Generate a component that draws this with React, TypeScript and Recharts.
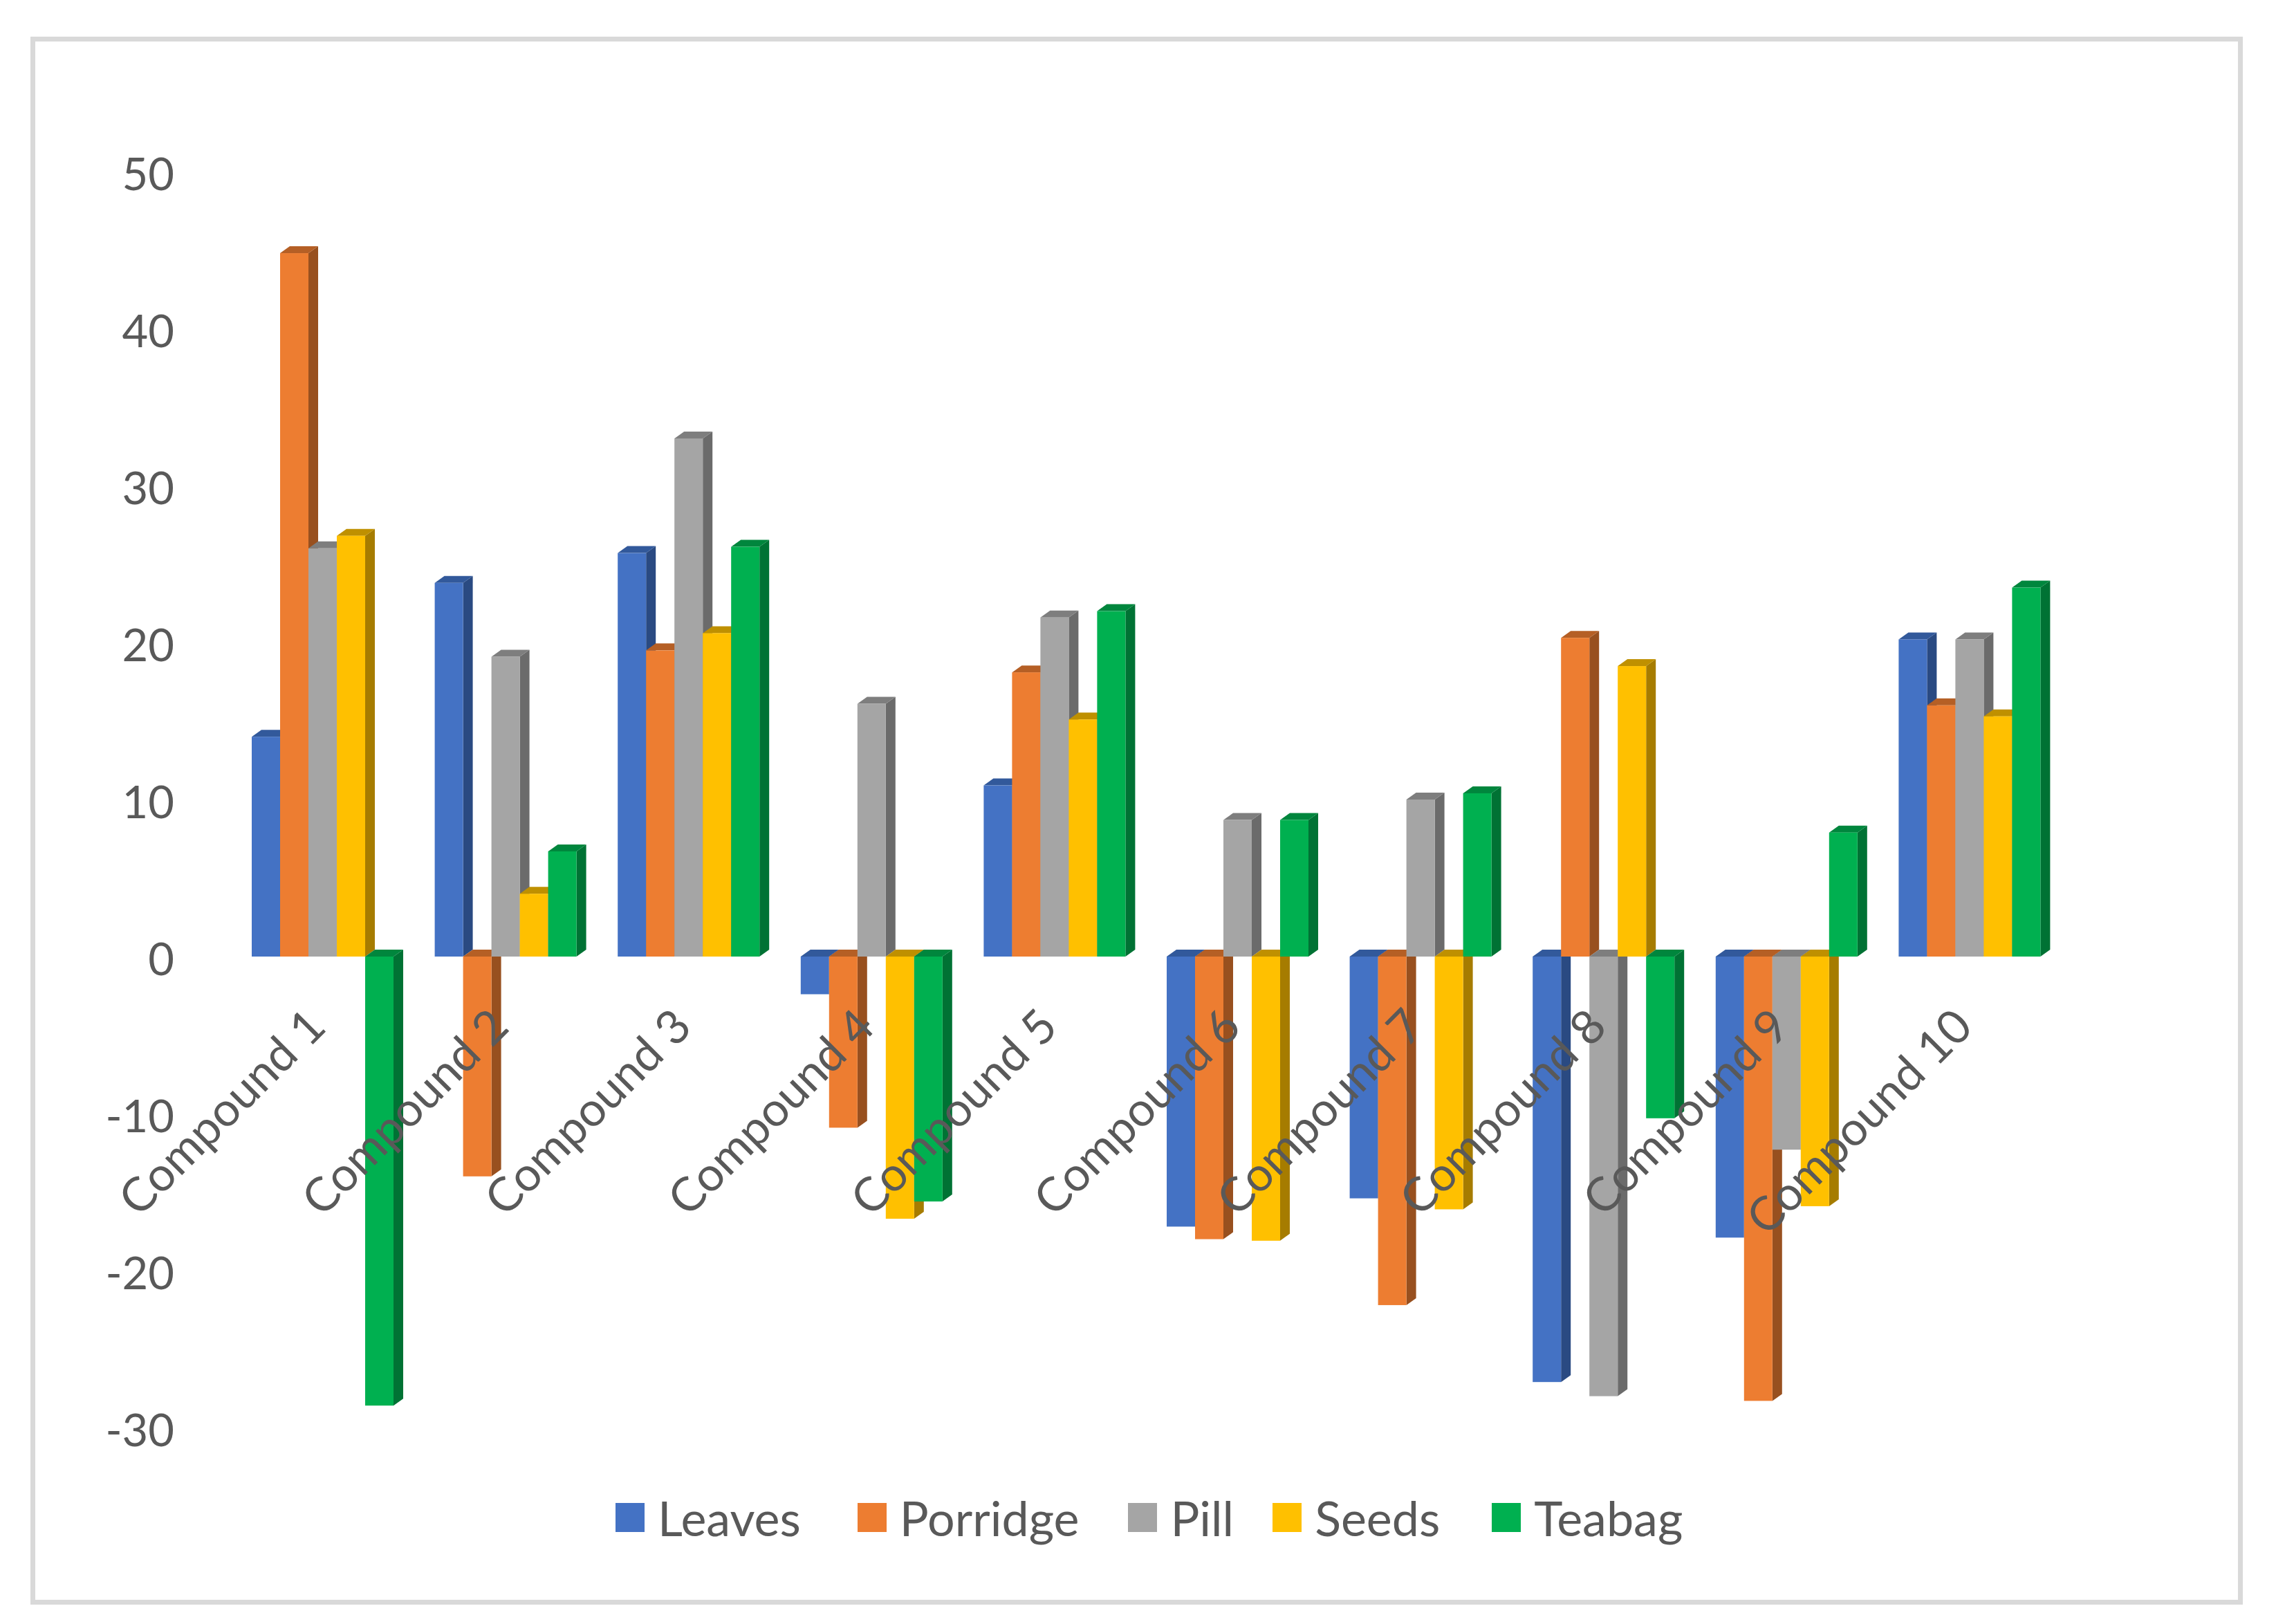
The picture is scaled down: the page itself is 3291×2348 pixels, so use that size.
import React from 'react';
import { BarChart, Bar, XAxis, YAxis, Legend } from 'recharts';

const categories = ['Compound 1', 'Compound 2', 'Compound 3', 'Compound 4', 'Compound 5', 'Compound 6', 'Compound 7', 'Compound 8', 'Compound 9', 'Compound 10'];
const leaves = [14.0, 23.8, 25.7, -2.4, 10.9, -17.2, -15.4, -27.1, -17.9, 20.2];
const porridge = [44.8, -14.0, 19.5, -10.9, 18.1, -18.0, -22.2, 20.3, -28.3, 16.0];
const pill = [26.0, 19.1, 33.0, 16.1, 21.6, 8.7, 10.0, -28.0, -12.3, 20.2];
const seeds = [26.8, 4.0, 20.6, -16.7, 15.1, -18.1, -16.1, 18.5, -15.9, 15.3];
const teabag = [-28.6, 6.7, 26.1, -15.6, 22.0, 8.7, 10.4, -10.3, 7.9, 23.5];
const yTicks = [-30, -20, -10, 0, 10, 20, 30, 40, 50];

const data = categories.map((name, i) => ({
  name,
  Leaves: leaves[i],
  Porridge: porridge[i],
  Pill: pill[i],
  Seeds: seeds[i],
  Teabag: teabag[i],
}));

const series = [
  { key: 'Leaves', fill: '#4472C4', side: '#2A4A82', top: '#32599B' },
  { key: 'Porridge', fill: '#ED7D31', side: '#98501F', top: '#B55F25' },
  { key: 'Pill', fill: '#A5A5A5', side: '#6B6B6B', top: '#7E7E7E' },
  { key: 'Seeds', fill: '#FFC000', side: '#A67C00', top: '#BF9000' },
  { key: 'Teabag', fill: '#00B050', side: '#007234', top: '#00863D' },
];

const FONT = 'Lato, sans-serif';
const TEXT_COLOR = '#595959';
const DEPTH_X = 14;
const DEPTH_Y = 10;
const legendGaps = [82, 71, 56, 75, 0];

// Excel style 3D column: front face, then the side and the top
const Box3D = (props: any) => {
  const { x, y, width, height, fill, side, top } = props;
  const y0 = Math.min(y, y + height);
  const h = Math.abs(height);
  const r = x + width;
  return (
    <g>
      <polygon
        points={`${r},${y0} ${r + DEPTH_X},${y0 - DEPTH_Y} ${r + DEPTH_X},${y0 + h - DEPTH_Y} ${r},${y0 + h}`}
        fill={side}
      />
      <polygon
        points={`${x},${y0} ${x + DEPTH_X},${y0 - DEPTH_Y} ${r + DEPTH_X},${y0 - DEPTH_Y} ${r},${y0}`}
        fill={top}
      />
      <rect x={x} y={y0} width={width} height={h} fill={fill} />
    </g>
  );
};

const CategoryTick = (props: any) => {
  const { x, y, payload } = props;
  const tx = x + 8;
  const ty = y - 578; // labels sit next to the zero line, not under the plot
  return (
    <text
      x={tx}
      y={ty}
      textAnchor="end"
      transform={`rotate(-45 ${tx} ${ty})`}
      fontFamily={FONT}
      fontSize={68}
      fill={TEXT_COLOR}
    >
      {payload.value}
    </text>
  );
};

const LegendRow = ({ payload }: any) => (
  <div style={{ display: 'flex', alignItems: 'center', fontFamily: FONT, fontSize: 70, color: TEXT_COLOR, lineHeight: '80px' }}>
    {(payload || []).map((item: any, i: number) => (
      <div key={item.value} style={{ display: 'flex', alignItems: 'center', marginRight: legendGaps[i] }}>
        <span style={{ width: 42, height: 42, background: item.color, marginRight: 19, display: 'inline-block' }} />
        <span>{item.value}</span>
      </div>
    ))}
  </div>
);

export default function App() {
  return (
    <div style={{ position: 'absolute', left: 0, top: 0, width: 3291, height: 2348, background: '#fff' }}>
      <div
        style={{
          position: 'absolute',
          left: 44,
          top: 53,
          width: 3199,
          height: 2267,
          boxSizing: 'border-box',
          border: '7px solid #D9D9D9',
        }}
      />
      <div style={{ position: 'absolute', left: 0, top: 0 }}>
        <BarChart
          width={3291}
          height={2348}
          data={data}
          margin={{ top: 248, right: 3291 - 334 - 2646, bottom: 194, left: 0 }}
          barCategoryGap={30}
          barGap={0}
        >
          <YAxis
            width={334}
            domain={[-30, 50]}
            ticks={yTicks}
            interval={0}
            axisLine={false}
            tickLine={false}
            tickSize={0}
            tickMargin={82}
            tick={{ fontFamily: FONT, fontSize: 65, fill: TEXT_COLOR, dy: 4 }}
          />
          {series.map((s) => (
            <Bar
              key={s.key}
              dataKey={s.key}
              fill={s.fill}
              isAnimationActive={false}
              shape={(p: any) => <Box3D {...p} side={s.side} top={s.top} />}
            />
          ))}
          <XAxis
            dataKey="name"
            height={10}
            interval={0}
            axisLine={false}
            tickLine={false}
            tickSize={0}
            tick={(p: any) => <CategoryTick {...p} />}
          />
          <Legend
            content={<LegendRow />}
            itemSorter={null}
            height={0}
            wrapperStyle={{ left: 890, top: 2154, bottom: 'auto', width: 'auto' }}
          />
        </BarChart>
      </div>
    </div>
  );
}
